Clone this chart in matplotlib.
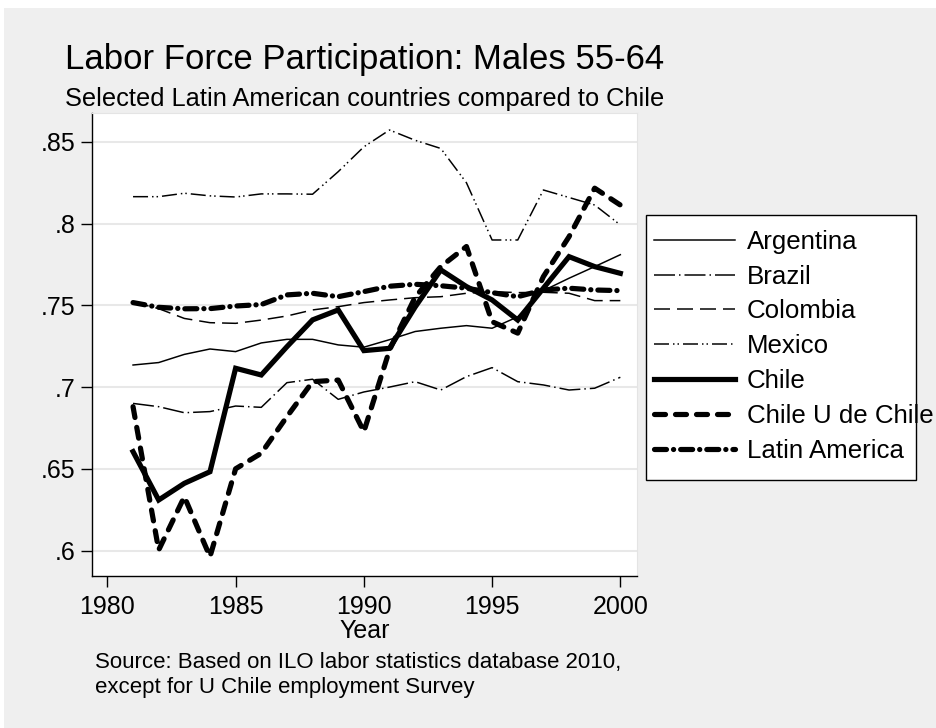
import matplotlib
matplotlib.use("Agg")
import matplotlib.pyplot as plt
from matplotlib.patches import Rectangle

plt.rcParams['font.family'] = ['Liberation Sans', 'DejaVu Sans']
plt.rcParams['lines.scale_dashes'] = False

# Labor force participation, males 55-64
years = list(range(1981, 2001))
argentina = [0.7135, 0.715, 0.720, 0.7233, 0.7217, 0.727, 0.7292, 0.7292, 0.7258, 0.7244,
             0.729, 0.734, 0.736, 0.7376, 0.736, 0.743, 0.759, 0.7666, 0.7737, 0.781]
brazil = [0.690, 0.688, 0.6843, 0.685, 0.6884, 0.6876, 0.7027, 0.7048, 0.6925, 0.697,
          0.700, 0.7033, 0.6982, 0.7064, 0.7119, 0.7033, 0.7013, 0.6982, 0.6993, 0.706]
colombia = [0.752, 0.748, 0.742, 0.7394, 0.739, 0.741, 0.7435, 0.7472, 0.7492, 0.7517,
            0.7533, 0.7547, 0.7553, 0.7574, 0.7584, 0.7578, 0.758, 0.7574, 0.7529, 0.7529]
mexico = [0.8165, 0.8165, 0.8186, 0.817, 0.8163, 0.8182, 0.8182, 0.818, 0.8318, 0.847,
          0.8573, 0.851, 0.846, 0.825, 0.790, 0.790, 0.8206, 0.816, 0.8114, 0.7992]
chile = [0.6605, 0.6309, 0.6411, 0.6482, 0.7115, 0.7074, 0.7247, 0.7411, 0.7472, 0.7223,
         0.7237, 0.749, 0.7717, 0.7615, 0.7533, 0.741, 0.7605, 0.7798, 0.7737, 0.7696]
chile_u = [0.688, 0.6003, 0.6329, 0.5962, 0.650, 0.6595, 0.6819, 0.7033, 0.7043, 0.6727,
           0.7227, 0.755, 0.7737, 0.786, 0.740, 0.733, 0.7676, 0.792, 0.8217, 0.8114]
latam = [0.7517, 0.7488, 0.7479, 0.748, 0.7496, 0.7505, 0.7564, 0.7574, 0.7553, 0.7584,
         0.7617, 0.7629, 0.762, 0.7605, 0.7578, 0.7553, 0.7594, 0.7605, 0.7594, 0.759]

W, H = 937, 728
fig = plt.figure(figsize=(W / 100, H / 100), dpi=100, facecolor='white')

# gray graph region with a thin white margin at top and left
fig.patches.append(Rectangle((4 / W, 0), 1, 1 - 8 / H, transform=fig.transFigure,
                             facecolor='#EFEFEF', edgecolor='none', zorder=-10))

ax = fig.add_axes([92 / W, 1 - 576 / H, (637 - 92) / W, (576 - 113) / H])
ax.set_facecolor('white')

px = 0.72  # one pixel in points
thin = 1.5 * px
thick = 5.2 * px

ax.plot(years, argentina, color='black', lw=thin, label='Argentina')
ax.plot(years, brazil, color='black', lw=thin, dash_capstyle='butt',
        linestyle=(0, (21 * px, 4 * px, 1.5 * px, 4 * px)), label='Brazil')
ax.plot(years, colombia, color='black', lw=thin, dash_capstyle='butt',
        linestyle=(0, (16 * px, 7 * px)), label='Colombia')
ax.plot(years, mexico, color='black', lw=thin, dash_capstyle='butt',
        linestyle=(0, (15 * px, 4 * px, 1.5 * px, 3 * px, 1.5 * px, 4 * px)), label='Mexico')
ax.plot(years, chile, color='black', lw=thick, solid_joinstyle='miter', label='Chile')
ax.plot(years, chile_u, color='black', lw=thick, dash_capstyle='round',
        linestyle=(0, (11 * px, 10 * px)), label='Chile U de Chile')
ax.plot(years, latam, color='black', lw=thick, dash_capstyle='round',
        linestyle=(0, (12 * px, 7 * px, 0.1, 7 * px)), label='Latin America')

ax.set_xlim(1979.4, 2000.65)
ax.set_ylim(0.5844, 0.8677)
ax.set_xticks([1980, 1985, 1990, 1995, 2000])
ax.set_yticks([0.6, 0.65, 0.7, 0.75, 0.8, 0.85])
ax.set_yticklabels(['.6', '.65', '.7', '.75', '.8', '.85'])
ax.tick_params(axis='both', labelsize=18, length=8, width=1, color='black', direction='out')
ax.tick_params(axis='x', pad=6)
ax.tick_params(axis='y', pad=4)
ax.grid(axis='y', color='#E8E8E8', lw=1.5)
ax.set_axisbelow(True)

for side in ['top', 'right']:
    ax.spines[side].set_color('#E4E4E4')
for side in ['left', 'bottom']:
    ax.spines[side].set_color('black')
    ax.spines[side].set_linewidth(1.0)

ax.set_xlabel('Year', fontsize=18, labelpad=0)

# legend box is drawn separately; the longest label runs past its right edge
fig.patches.append(Rectangle((646 / W, 1 - 480 / H), (916 - 646) / W, (480 - 215) / H,
                             transform=fig.transFigure, facecolor='white',
                             edgecolor='black', lw=1.0, zorder=-5))
leg = ax.legend(loc='upper left', bbox_to_anchor=(646 / W, 1 - 222 / H),
                bbox_transform=fig.transFigure, fontsize=18.6, frameon=False,
                handlelength=3.15, handletextpad=0.45, labelspacing=0.42,
                borderpad=0.3, borderaxespad=0)

fig.text(364.5 / W, 1 - 60 / H, 'Labor Force Participation: Males 55-64',
         ha='center', va='center', fontsize=25)
fig.text(364.5 / W, 1 - 99 / H, 'Selected Latin American countries compared to Chile',
         ha='center', va='center', fontsize=18.3)
fig.text(95 / W, 1 - 675 / H,
         'Source: Based on ILO labor statistics database 2010,\nexcept for U Chile employment Survey',
         ha='left', va='center', fontsize=16, linespacing=1.25)

fig.savefig('out.png', dpi=100)
